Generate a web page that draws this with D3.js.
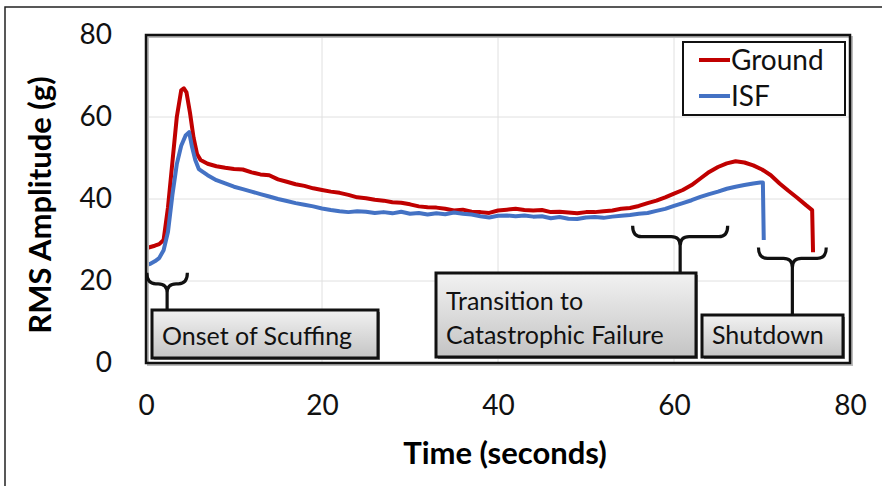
<!DOCTYPE html>
<html>
<head>
<meta charset="utf-8">
<script src="https://cdn.jsdelivr.net/npm/d3@7"></script>
<style>
  body { margin: 0; background: #fff; }
  svg { font-family: Lato, "Open Sans", sans-serif; }
</style>
</head>
<body>
<svg width="882" height="486"></svg>
<script>
// Data
const groundTime = [0, 0.5, 1, 1.5, 2, 2.5, 3, 3.5, 4, 4.3, 4.6, 5, 5.4, 5.8, 6.2, 7, 8, 9, 10, 11, 12, 13, 14, 15, 16, 17, 18, 19, 20, 21, 22, 23, 24, 25, 26, 27, 28, 29, 30, 31, 32, 33, 34, 35, 36, 37, 38, 39, 40, 41, 42, 43, 44, 45, 46, 47, 48, 49, 50, 51, 52, 53, 54, 55, 56, 57, 58, 59, 60, 61, 62, 63, 64, 65, 66, 67, 68, 69, 70, 71, 72, 73, 74, 75, 75.7, 75.8]
const groundRms = [28, 28.3, 28.6, 29, 30, 38, 49, 60, 66.5, 67, 66, 61, 55, 51, 49.5, 48.6, 48, 47.6, 47.3, 47.2, 46.5, 46, 45.8, 44.8, 44.2, 43.6, 43.2, 42.6, 42.2, 41.8, 41.5, 41, 40.4, 40.2, 39.8, 39.6, 39.2, 39.1, 38.7, 38.2, 38, 37.9, 37.6, 37.2, 37.4, 36.9, 36.8, 36.6, 37.2, 37.4, 37.6, 37.3, 37.2, 37.3, 36.8, 36.9, 36.7, 36.5, 36.8, 36.8, 37, 37.2, 37.6, 37.8, 38.3, 39, 39.6, 40.4, 41.3, 42.2, 43.4, 45, 46.6, 47.8, 48.7, 49.2, 48.9, 48.2, 47.2, 45.8, 43.8, 42, 40.3, 38.5, 37.3, 27]

const isfTime = [0, 0.5, 1, 1.5, 2, 2.5, 3, 3.5, 4, 4.5, 4.9, 5.2, 5.6, 6, 7, 8, 9, 10, 11, 12, 13, 14, 15, 16, 17, 18, 19, 20, 21, 22, 23, 24, 25, 26, 27, 28, 29, 30, 31, 32, 33, 34, 35, 36, 37, 38, 39, 40, 41, 42, 43, 44, 45, 46, 47, 48, 49, 50, 51, 52, 53, 54, 55, 56, 57, 58, 59, 60, 61, 62, 63, 64, 65, 66, 67, 68, 69, 69.8, 70.1, 70.2]
const isfRms = [23.9, 24.2, 24.8, 25.6, 27.5, 32, 41, 48.5, 53, 55.5, 56.3, 53, 49.5, 47.3, 45.8, 44.6, 43.8, 43, 42.4, 41.8, 41.2, 40.6, 40, 39.5, 39, 38.6, 38.2, 37.7, 37.3, 37, 36.8, 37, 36.9, 36.6, 36.8, 36.5, 36.9, 36.4, 36.6, 36.2, 36.5, 36.3, 36.7, 36.4, 36.2, 35.8, 35.5, 35.9, 36, 35.8, 36, 35.7, 35.8, 35.3, 35.6, 35.2, 35.1, 35.5, 35.6, 35.4, 35.7, 35.9, 36.1, 36.4, 36.6, 37.1, 37.6, 38.3, 39, 39.7, 40.5, 41.2, 41.8, 42.5, 43, 43.4, 43.8, 44, 44, 30]

const seriesNames = ["Ground", "ISF"]
const seriesColors = ["#C00000", "#4472C4"]
const xTicks = [0, 20, 40, 60, 80]
const yTicks = [0, 20, 40, 60, 80]

// annotation phases: bracket span in seconds, bracket top in g, label lines
const phaseLabels = [["Onset of Scuffing"], ["Transition to", "Catastrophic Failure"], ["Shutdown"]]
const phaseStart = [0.1, 55.3, 69.6]
const phaseEnd = [4.7, 66.1, 77.3]
const phaseTop = [22, 33.5, 28.2]

const svg = d3.select("svg"),
	width = +svg.attr("width"),
	height = +svg.attr("height");

const margin = { left: 146, top: 35, right: 32, bottom: 123 }
const plotW = width - margin.left - margin.right
const plotH = height - margin.top - margin.bottom

const x = d3.scaleLinear().domain([0, 80]).range([margin.left, margin.left + plotW])
const y = d3.scaleLinear().domain([0, 80]).range([margin.top + plotH, margin.top])

// outer frame (cropped picture border)
svg.append("rect")
	.attr("x", 5).attr("y", 7)
	.attr("width", width + 10).attr("height", height + 10)
	.attr("fill", "none").attr("stroke", "#222").attr("stroke-width", 1.5)

// grid
svg.append("g").selectAll("line")
	.data(yTicks.slice(1, -1))
	.join("line")
	.attr("x1", x(0)).attr("x2", x(80))
	.attr("y1", d => y(d)).attr("y2", d => y(d))
	.attr("stroke", "#e0e0e0").attr("stroke-width", 1)
svg.append("g").selectAll("line")
	.data(xTicks.slice(1, -1))
	.join("line")
	.attr("y1", y(0)).attr("y2", y(80))
	.attr("x1", d => x(d)).attr("x2", d => x(d))
	.attr("stroke", "#e0e0e0").attr("stroke-width", 1)

// axes labels
const yAxis = d3.axisLeft(y).tickValues(yTicks).tickSize(0).tickPadding(34)
svg.append("g")
	.attr("transform", `translate(${margin.left},0)`)
	.call(yAxis)
	.call(g => g.select(".domain").remove())
	.selectAll("text")
	.attr("font-size", 28).attr("fill", "#111").attr("font-family", "Lato, sans-serif")

const xAxis = d3.axisBottom(x).tickValues(xTicks).tickSize(0).tickPadding(32)
svg.append("g")
	.attr("transform", `translate(0,${y(0)})`)
	.call(xAxis)
	.call(g => g.select(".domain").remove())
	.selectAll("text")
	.attr("font-size", 28).attr("fill", "#111").attr("font-family", "Lato, sans-serif")

svg.append("text")
	.attr("x", x(40) + 7).attr("y", 464)
	.attr("text-anchor", "middle")
	.attr("font-size", 31).attr("font-weight", "bold")
	.text("Time (seconds)")

svg.append("text")
	.attr("transform", `translate(51,${y(40) + 6}) rotate(-90)`)
	.attr("text-anchor", "middle")
	.attr("font-size", 31).attr("font-weight", "bold")
	.text("RMS Amplitude (g)")

// series
const line = d3.line().x(d => x(d[0])).y(d => y(d[1]))
const series = [
	d3.zip(groundTime, groundRms),
	d3.zip(isfTime, isfRms)
]
svg.append("g").selectAll("path")
	.data(series)
	.join("path")
	.attr("d", line)
	.attr("fill", "none")
	.attr("stroke", (d, i) => seriesColors[i])
	.attr("stroke-width", 4)
	.attr("stroke-linejoin", "round")

// plot border with a soft shadow
svg.append("rect")
	.attr("x", margin.left + 2).attr("y", margin.top + 2)
	.attr("width", plotW).attr("height", plotH)
	.attr("fill", "none").attr("stroke", "#bbb").attr("stroke-width", 2)
svg.append("rect")
	.attr("x", margin.left).attr("y", margin.top)
	.attr("width", plotW).attr("height", plotH)
	.attr("fill", "none").attr("stroke", "#111").attr("stroke-width", 2.5)

// legend
const legend = svg.append("g").attr("class", "legend")
legend.append("rect")
	.attr("x", 683).attr("y", 42).attr("width", 162).attr("height", 73)
	.attr("fill", "#fff").attr("stroke", "#111").attr("stroke-width", 2)
legend.selectAll("line")
	.data(seriesNames)
	.join("line")
	.attr("x1", 699).attr("x2", 730)
	.attr("y1", (d, i) => 60 + i * 36).attr("y2", (d, i) => 60 + i * 36)
	.attr("stroke", (d, i) => seriesColors[i]).attr("stroke-width", 4)
legend.selectAll("text")
	.data(seriesNames)
	.join("text")
	.attr("x", 731)
	.attr("y", (d, i) => 70 + i * 36)
	.attr("font-size", 28).attr("fill", "#111")
	.text(d => d)

// annotation boxes
const grad = svg.append("defs").append("linearGradient")
	.attr("id", "boxfill").attr("x1", 0).attr("y1", 0).attr("x2", 0).attr("y2", 1)
grad.append("stop").attr("offset", "0%").attr("stop-color", "#f2f2f2")
grad.append("stop").attr("offset", "100%").attr("stop-color", "#c4c4c4")

const boxes = [
	{ x0: 152, x1: 378, y0: 310, y1: 358 },
	{ x0: 436, x1: 696, y0: 273, y1: 357 },
	{ x0: 702, x1: 843, y0: 315, y1: 357 }
]

const brace = function (t0, t1, top, stemEnd) {
	const a = x(t0), b = x(t1), c = (a + b) / 2
	const yt = y(top), ym = yt + 11, r = 9
	return `M${a},${yt} Q${a},${ym} ${a + r},${ym} L${c - r},${ym} Q${c},${ym} ${c},${ym + r} L${c},${stemEnd}` +
		` M${b},${yt} Q${b},${ym} ${b - r},${ym} L${c + r},${ym} Q${c},${ym} ${c},${ym + r}`
}

const ann = svg.append("g").attr("class", "annotations")
phaseLabels.forEach((lines, i) => {
	const bx = boxes[i]
	ann.append("path")
		.attr("d", brace(phaseStart[i], phaseEnd[i], phaseTop[i], bx.y0))
		.attr("fill", "none").attr("stroke", "#111").attr("stroke-width", 3.2)
	ann.append("rect")
		.attr("x", bx.x0 + 2).attr("y", bx.y0 + 2)
		.attr("width", bx.x1 - bx.x0).attr("height", bx.y1 - bx.y0)
		.attr("fill", "#888")
	ann.append("rect")
		.attr("x", bx.x0).attr("y", bx.y0)
		.attr("width", bx.x1 - bx.x0).attr("height", bx.y1 - bx.y0)
		.attr("fill", "url(#boxfill)").attr("stroke", "#111").attr("stroke-width", 3)
	lines.forEach((s, j) => {
		ann.append("text")
			.attr("x", bx.x0 + 10)
			.attr("y", bx.y1 - 13 - (lines.length - 1 - j) * 34)
			.attr("font-size", 25).attr("fill", "#111")
			.text(s)
	})
})
</script>
</body>
</html>
